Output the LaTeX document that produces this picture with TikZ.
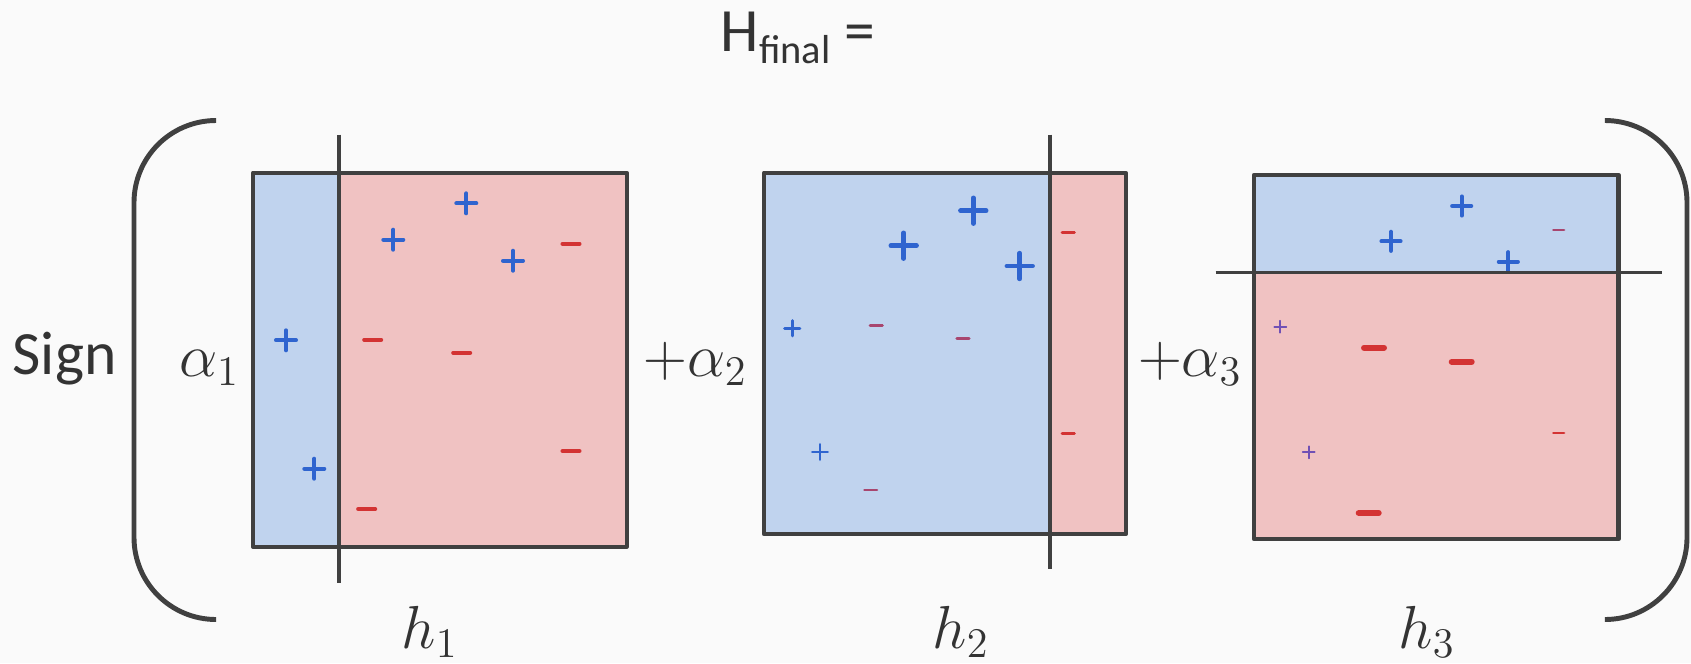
\documentclass[tikz,border=0pt]{standalone}
\usepackage{fontspec}
\setmainfont{Carlito}
\definecolor{bg}{HTML}{FAFAFA}
\definecolor{bfill}{HTML}{C0D3EE}
\definecolor{rfill}{HTML}{F0C2C2}
\definecolor{edgec}{HTML}{404040}
\definecolor{txt}{HTML}{333333}
\definecolor{pblue}{HTML}{2F64CF}
\definecolor{mred}{HTML}{D33333}
\definecolor{mpurp}{HTML}{A8466F}
\definecolor{ppurp}{HTML}{7050B5}
\newcommand{\PlusMk}[5]{\draw[line width=#4,color=#5,line cap=round] ({#1-#3},#2) -- ({#1+#3},#2) (#1,{#2-#3}) -- (#1,{#2+#3});}
\newcommand{\MinusMk}[5]{\draw[line width=#4,color=#5,line cap=round] ({#1-#3},#2) -- ({#1+#3},#2);}
\begin{document}
\begin{tikzpicture}[x=0.01cm,y=-0.01cm,
  boxline/.style={draw=edgec,line width=1.15pt,line join=round},
  divline/.style={draw=edgec,line width=1.0pt},
  bracket/.style={draw=edgec,line width=1.4pt,rounded corners=0.82cm},
  txtnode/.style={text=txt,inner sep=0pt,font=\fontsize{17.5}{20}\selectfont},
  mathnode/.style={text=txt,inner sep=0pt,font=\fontsize{18}{20}\selectfont}]
\fill[bg] (0,0) rectangle (1691,663);
\useasboundingbox (0,0) rectangle (1691,663);

% title
\node[txtnode,anchor=base west] (hfinal) at (720,51.7) {H\raisebox{-3.3pt}{\fontsize{11.5}{13}\selectfont final} =};

% brackets
\draw[bracket] (216,120.5) -- (134,120.5) -- (134,619.5) -- (216,619.5);
\draw[bracket] (1605,120.5) -- (1687,120.5) -- (1687,619.5) -- (1605,619.5);

% labels
\node[txtnode,anchor=base west] (sign) at (12,374) {Sign};
\node[mathnode,anchor=base] (a1) at (209.5,376.7) {$\alpha_1$};
\node[mathnode,anchor=base] (a2) at (695.4,376.7) {${+}\alpha_2$};
\node[mathnode,anchor=base] (a3) at (1190,376.7) {${+}\alpha_3$};
\node[mathnode,anchor=base] (h1) at (430,648.3) {$h_1$};
\node[mathnode,anchor=base] (h2) at (961,648.3) {$h_2$};
\node[mathnode,anchor=base] (h3) at (1427,648.3) {$h_3$};

% box 1
\fill[bfill] (253,172.7) rectangle (339,546.7);
\fill[rfill] (339,172.7) rectangle (626.7,546.7);
\PlusMk{466.3}{203.3}{10}{1.14pt}{pblue}
\PlusMk{393.3}{239.7}{10}{1.14pt}{pblue}
\PlusMk{513}{260.7}{10}{1.14pt}{pblue}
\PlusMk{286}{340.3}{10}{1.14pt}{pblue}
\PlusMk{314.3}{468.7}{10}{1.14pt}{pblue}
\MinusMk{571}{243.7}{8.5}{1.15pt}{mred}
\MinusMk{372.7}{339.7}{8.5}{1.15pt}{mred}
\MinusMk{461.7}{352.7}{8.5}{1.15pt}{mred}
\MinusMk{571}{451}{8.5}{1.15pt}{mred}
\MinusMk{366.7}{509}{8.5}{1.15pt}{mred}
\draw[boxline] (253,172.7) rectangle (626.7,546.7);
\draw[divline] (339,134.5) -- (339,582.7);

% box 2
\fill[bfill] (764,172.7) rectangle (1050,534.3);
\fill[rfill] (1050,172.7) rectangle (1125.7,534.3);
\PlusMk{973.3}{210.7}{12.8}{1.35pt}{pblue}
\PlusMk{903.7}{245.7}{12.8}{1.35pt}{pblue}
\PlusMk{1019.7}{266}{12.8}{1.35pt}{pblue}
\PlusMk{792.3}{328.3}{7.7}{0.78pt}{pblue}
\PlusMk{820}{452}{7.7}{0.78pt}{pblue}
\MinusMk{876.3}{325.7}{6.2}{0.82pt}{mpurp}
\MinusMk{963}{338.7}{6.2}{0.82pt}{mpurp}
\MinusMk{870.7}{490}{6.2}{0.82pt}{mpurp}
\MinusMk{1068.3}{232.7}{6.2}{0.82pt}{mred}
\MinusMk{1068.3}{433.7}{6.2}{0.82pt}{mred}
\draw[boxline] (764,172.7) rectangle (1125.7,534.3);
\draw[divline] (1050,134.5) -- (1050,568.7);

% box 3
\fill[bfill] (1254,175) rectangle (1618.3,272.3);
\fill[rfill] (1254,272.3) rectangle (1618.3,539);
\PlusMk{1461.7}{206}{9.6}{1.12pt}{pblue}
\PlusMk{1391}{241.3}{9.6}{1.12pt}{pblue}
\PlusMk{1508.3}{261.7}{9.6}{1.12pt}{pblue}
\PlusMk{1280.3}{326.7}{6}{0.52pt}{ppurp}
\PlusMk{1308.7}{452.3}{6}{0.52pt}{ppurp}
\MinusMk{1374}{347.7}{10}{1.7pt}{mred}
\MinusMk{1461.7}{361.7}{10}{1.7pt}{mred}
\MinusMk{1368.7}{513}{10}{1.7pt}{mred}
\MinusMk{1558.7}{230}{5.4}{0.68pt}{mpurp}
\MinusMk{1558.7}{432.7}{5.4}{0.68pt}{mred}
\draw[boxline,line width=1.35pt] (1254,175) rectangle (1618.3,539);
\draw[divline] (1215.6,272.3) -- (1662,272.3);
\end{tikzpicture}
\end{document}
